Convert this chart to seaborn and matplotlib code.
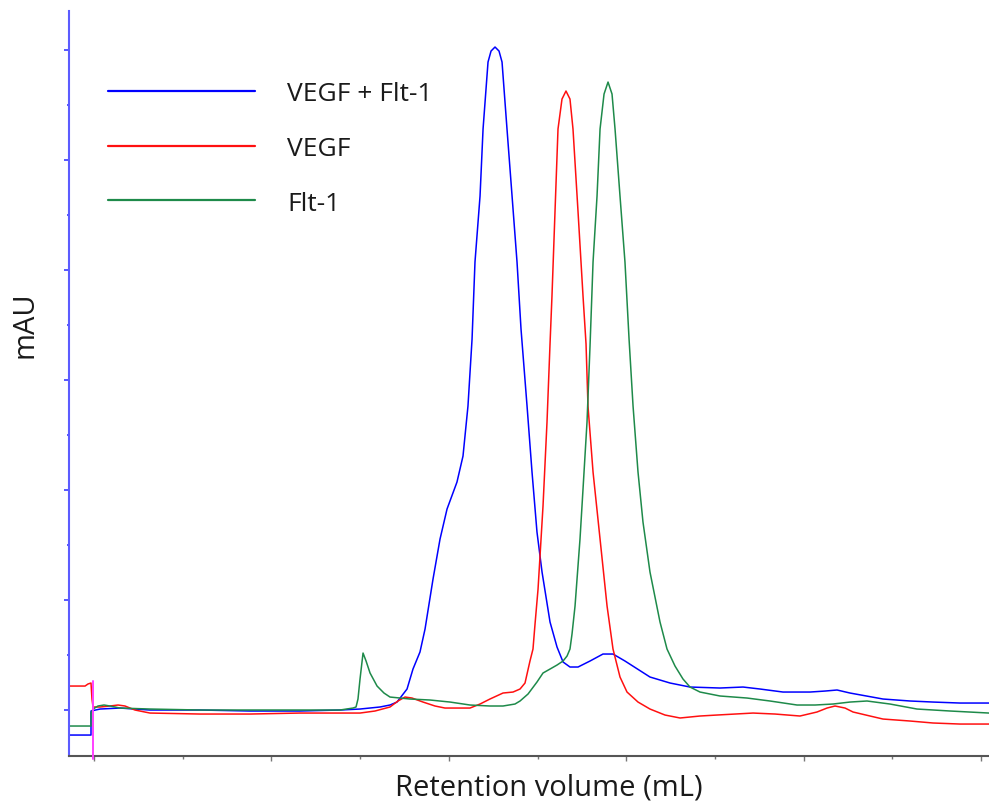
import matplotlib
matplotlib.use("Agg")
import matplotlib.pyplot as plt
from matplotlib.lines import Line2D
from matplotlib.ticker import MultipleLocator, NullFormatter
import seaborn as sns
import pandas as pd

# ---------------- data (retention volume in tick units, absorbance in tick units) -------------
series_names = ["VEGF + Flt-1", "VEGF", "Flt-1"]
series_colors = ["#0000ff", "#ff1010", "#1e8a4a"]

complex_x = [-0.282, -0.034, -0.034, 0.068, 0.293, 0.631, 1.195, 1.759, 2.322, 2.773, 2.999,
             3.224, 3.337, 3.416, 3.529, 3.596, 3.675, 3.732, 3.822, 3.901, 3.980, 4.092,
             4.160, 4.216, 4.262, 4.295, 4.352, 4.386, 4.442, 4.476, 4.521, 4.566, 4.600,
             4.656, 4.713, 4.769, 4.814, 4.882, 4.938, 4.994, 5.051, 5.141, 5.220, 5.288,
             5.366, 5.457, 5.592, 5.738, 5.851, 5.986, 6.268, 6.494, 6.719, 7.057, 7.317,
             7.508, 7.768, 8.072, 8.241, 8.377, 8.523, 8.895, 9.200, 9.459, 9.763, 10.090]
complex_y = [-0.455, -0.455, -0.018, 0.018, 0.036, 0.0, 0.0, -0.018, -0.018, 0.0, 0.018,
             0.055, 0.091, 0.145, 0.382, 0.745, 1.055, 1.473, 2.382, 3.109, 3.655, 4.145,
             4.618, 5.527, 6.745, 8.145, 9.345, 10.564, 11.782, 11.982, 12.055, 11.982, 11.782,
             10.564, 9.345, 8.145, 6.927, 5.527, 4.327, 3.236, 2.509, 1.600, 1.145, 0.873,
             0.782, 0.782, 0.891, 1.018, 1.018, 0.891, 0.600, 0.491, 0.418, 0.400, 0.418,
             0.382, 0.327, 0.327, 0.345, 0.364, 0.309, 0.200, 0.164, 0.145, 0.127, 0.127]

vegf_x = [-0.282, -0.101, -0.068, -0.034, -0.023, -0.011, 0.068, 0.180, 0.271, 0.349, 0.462,
          0.631, 1.195, 1.759, 2.322, 2.999, 3.168, 3.337, 3.427, 3.506, 3.585, 3.709, 3.844,
          3.957, 4.239, 4.352, 4.464, 4.611, 4.724, 4.803, 4.859, 4.915, 4.949, 4.972, 5.006,
          5.062, 5.107, 5.141, 5.163, 5.197, 5.231, 5.276, 5.321, 5.366, 5.400, 5.457, 5.513,
          5.547, 5.569, 5.626, 5.705, 5.784, 5.851, 5.930, 6.009, 6.133, 6.268, 6.437, 6.607,
          6.832, 7.024, 7.227, 7.430, 7.678, 7.959, 8.151, 8.264, 8.354, 8.467, 8.557, 8.749,
          8.895, 9.200, 9.459, 9.763, 10.090]
vegf_y = [0.436, 0.436, 0.473, 0.491, 0.200, 0.055, 0.055, 0.073, 0.091, 0.073, 0.0,
          -0.055, -0.073, -0.073, -0.055, -0.055, -0.018, 0.055, 0.164, 0.236, 0.218, 0.145, 0.073,
          0.036, 0.036, 0.109, 0.200, 0.309, 0.327, 0.382, 0.491, 0.891, 1.109, 1.564, 2.200,
          3.709, 5.236, 6.655, 7.527, 9.055, 10.564, 11.109, 11.255, 11.109, 10.564, 9.055, 7.527,
          6.655, 5.527, 4.327, 3.109, 1.891, 1.109, 0.600, 0.327, 0.145, 0.018, -0.091, -0.145,
          -0.109, -0.091, -0.073, -0.055, -0.073, -0.109, -0.036, 0.036, 0.073, 0.036, -0.036, -0.109,
          -0.164, -0.200, -0.236, -0.255, -0.255]

flt_x = [-0.282, -0.034, -0.034, -0.011, 0.045, 0.113, 0.180, 0.293, 0.631, 1.195, 2.322,
         2.773, 2.920, 2.954, 2.976, 2.999, 3.033, 3.067, 3.112, 3.191, 3.269, 3.337, 3.563,
         3.788, 4.014, 4.239, 4.464, 4.611, 4.746, 4.803, 4.893, 4.994, 5.062, 5.141, 5.220,
         5.288, 5.333, 5.366, 5.389, 5.423, 5.479, 5.513, 5.558, 5.592, 5.626, 5.671, 5.705,
         5.750, 5.795, 5.840, 5.874, 5.930, 5.986, 6.032, 6.077, 6.133, 6.189, 6.268, 6.381,
         6.460, 6.550, 6.640, 6.719, 6.832, 7.057, 7.362, 7.621, 7.926, 8.129, 8.331, 8.523,
         8.715, 8.974, 9.278, 9.651, 10.090]
flt_y = [-0.291, -0.291, -0.055, 0.018, 0.073, 0.091, 0.073, 0.036, 0.018, 0.0, 0.0,
         0.0, 0.036, 0.055, 0.200, 0.564, 1.036, 0.891, 0.673, 0.436, 0.309, 0.236, 0.200,
         0.182, 0.145, 0.091, 0.073, 0.073, 0.109, 0.164, 0.291, 0.509, 0.673, 0.745, 0.818,
         0.891, 0.982, 1.109, 1.382, 1.891, 3.109, 4.018, 5.236, 6.618, 8.145, 9.345, 10.564,
         11.200, 11.418, 11.200, 10.564, 9.345, 8.145, 6.745, 5.527, 4.327, 3.418, 2.509, 1.600,
         1.109, 0.800, 0.564, 0.418, 0.327, 0.255, 0.218, 0.164, 0.091, 0.091, 0.109, 0.145,
         0.164, 0.109, 0.018, -0.018, -0.055]

injection_x = -0.011
injection_top = 0.527

x_range = (-0.282, 10.09)
y_range = (-0.836, 12.71)

# ---------------- build long table ----------------
frames = []
for name, xs, ys in zip(series_names, [complex_x, vegf_x, flt_x], [complex_y, vegf_y, flt_y]):
    frames.append(pd.DataFrame({"volume": xs, "absorbance": ys, "sample": name,
                                "order": range(len(xs))}))
df = pd.concat(frames, ignore_index=True)

sns.set_theme(style="white")
plt.rcParams["font.family"] = ["Open Sans", "DejaVu Sans"]

fig = plt.figure(figsize=(9.89, 8.03), dpi=100)
ax = fig.add_axes([69 / 989, 1 - 757 / 803, (989 - 69) / 989, (757 - 12) / 803])

for name, color in zip(series_names, series_colors):
    sub = df[df["sample"] == name]
    sns.lineplot(data=sub, x="volume", y="absorbance", color=color, linewidth=1.1,
                 estimator=None, sort=False, ax=ax, legend=False)

ax.plot([injection_x, injection_x], [injection_top, y_range[0] - 0.06], color="#ff40ff",
        linewidth=1.4, clip_on=False, zorder=5)

ax.set_xlim(*x_range)
ax.set_ylim(*y_range)

for s in ["top", "right"]:
    ax.spines[s].set_visible(False)
ax.spines["left"].set_color("#5c5cff")
ax.spines["left"].set_linewidth(1.5)
ax.spines["bottom"].set_color("#555555")
ax.spines["bottom"].set_linewidth(1.5)

ax.xaxis.set_major_locator(MultipleLocator(2))
ax.xaxis.set_minor_locator(MultipleLocator(1))
ax.yaxis.set_major_locator(MultipleLocator(2))
ax.yaxis.set_minor_locator(MultipleLocator(1))
ax.xaxis.set_major_formatter(NullFormatter())
ax.yaxis.set_major_formatter(NullFormatter())
ax.tick_params(axis="x", which="major", direction="out", length=3.5, width=1, color="#777777", bottom=True)
ax.tick_params(axis="x", which="minor", direction="out", length=2, width=1, color="#777777", bottom=True)
ax.tick_params(axis="y", which="major", direction="out", length=3.5, width=1.2, color="#3a3aff", left=True)
ax.tick_params(axis="y", which="minor", direction="out", length=1.5, width=1.2, color="#3a3aff", left=True)

ax.set_xlabel("Retention volume (mL)", fontsize=21, color="#1a1a1a")
ax.xaxis.set_label_coords(0.522, -0.0215)
ax.set_ylabel("mAU", fontsize=21, color="#1a1a1a", va="center")
ax.yaxis.set_label_coords(-0.0478, 0.58)

handles = [Line2D([0], [0], color=c, linewidth=1.6) for c in series_colors]
leg = ax.legend(handles, series_names, loc="upper left", bbox_to_anchor=(108 / 989, 1 - 82 / 803),
                bbox_transform=fig.transFigure, frameon=False, fontsize=19,
                handlelength=5.57, handletextpad=1.21, labelspacing=1.13, borderpad=0,
                borderaxespad=0)
for t in leg.get_texts():
    t.set_color("#1a1a1a")

fig.savefig("out.png", dpi=100)
